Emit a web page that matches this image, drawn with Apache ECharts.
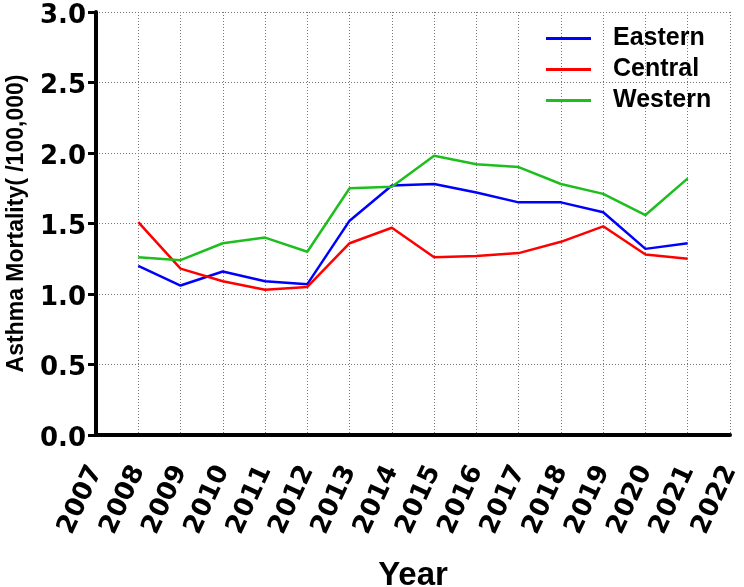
<!DOCTYPE html>
<html>
<head>
<meta charset="utf-8">
<script src="https://cdn.jsdelivr.net/npm/echarts@6/dist/echarts.min.js"></script>
<style>html,body{margin:0;padding:0;background:#fff;}#c{width:744px;height:587px;}</style>
</head>
<body>
<div id="c"></div>
<script>
var years = [2008,2009,2010,2011,2012,2013,2014,2015,2016,2017,2018,2019,2020,2021];
var eastern = [1.20,1.06,1.16,1.09,1.07,1.52,1.77,1.78,1.72,1.65,1.65,1.58,1.32,1.36];
var central = [1.51,1.18,1.09,1.03,1.05,1.36,1.47,1.26,1.27,1.29,1.37,1.48,1.28,1.25];
var western = [1.26,1.24,1.36,1.40,1.30,1.75,1.76,1.98,1.92,1.90,1.78,1.71,1.56,1.82];
var seriesNames = ['Eastern','Central','Western'];
var colors = ['#0000FF','#FF0000','#1EBE1E'];

function pairs(vals){ return years.map(function(y,i){ return [y, vals[i]]; }); }
var dataSets = [eastern, central, western];

var chart = echarts.init(document.getElementById('c'));
chart.setOption({
  animation: false,
  backgroundColor: '#fff',
  grid: {left: 96, right: 14, top: 12, bottom: 152, containLabel: false, outerBoundsMode: 'none'},
  legend: {
    data: seriesNames,
    orient: 'vertical',
    left: 541, top: 21,
    icon: 'rect',
    itemWidth: 45, itemHeight: 3,
    itemGap: 6,
    textStyle: {fontFamily: 'Liberation Sans, Arial', fontWeight: 'bold', fontSize: 25, color: '#000', padding: [0,0,0,17], lineHeight: 25}
  },
  xAxis: {
    type: 'value', min: 2007, max: 2022, interval: 1,
    name: 'Year', nameLocation: 'middle', nameGap: 124,
    nameTextStyle: {fontFamily: 'Liberation Sans, Arial', fontWeight: 'bold', fontSize: 33, color: '#000'},
    axisLine: {show: true, lineStyle: {color: '#000', width: 4}},
    axisTick: {show: false},
    axisLabel: {rotate: 65, margin: 32, color: '#000', fontFamily: 'DejaVu Sans', fontWeight: 'bold', fontSize: 26, formatter: function(v){return String(v);}},
    splitLine: {show: true, lineStyle: {color: '#777', type: [1,2], width: 1}}
  },
  yAxis: {
    type: 'value', min: 0, max: 3, interval: 0.5,
    name: 'Asthma Mortality( /100,000)', nameLocation: 'middle', nameGap: 68,
    nameTextStyle: {fontFamily: 'Liberation Sans, Arial', fontWeight: 'bold', fontSize: 23, color: '#000'},
    axisLine: {show: true, lineStyle: {color: '#000', width: 4}},
    axisTick: {show: true, length: 8, lineStyle: {color: '#000', width: 3}},
    axisLabel: {
      margin: 10, color: '#000',
      formatter: function(v){return '{a|' + v.toFixed(1) + '}';},
      rich: {a: {fontFamily: 'DejaVu Sans', fontWeight: 'bold', fontSize: 26, color: '#000', padding: [8,0,0,0]}}
    },
    splitLine: {show: true, lineStyle: {color: '#777', type: [1,2], width: 1}}
  },
  series: seriesNames.map(function(n,i){
    return {
      name: n, type: 'line', data: pairs(dataSets[i]),
      symbol: 'none', color: colors[i],
      lineStyle: {width: 2.5, color: colors[i]}
    };
  })
});
</script>
</body>
</html>
